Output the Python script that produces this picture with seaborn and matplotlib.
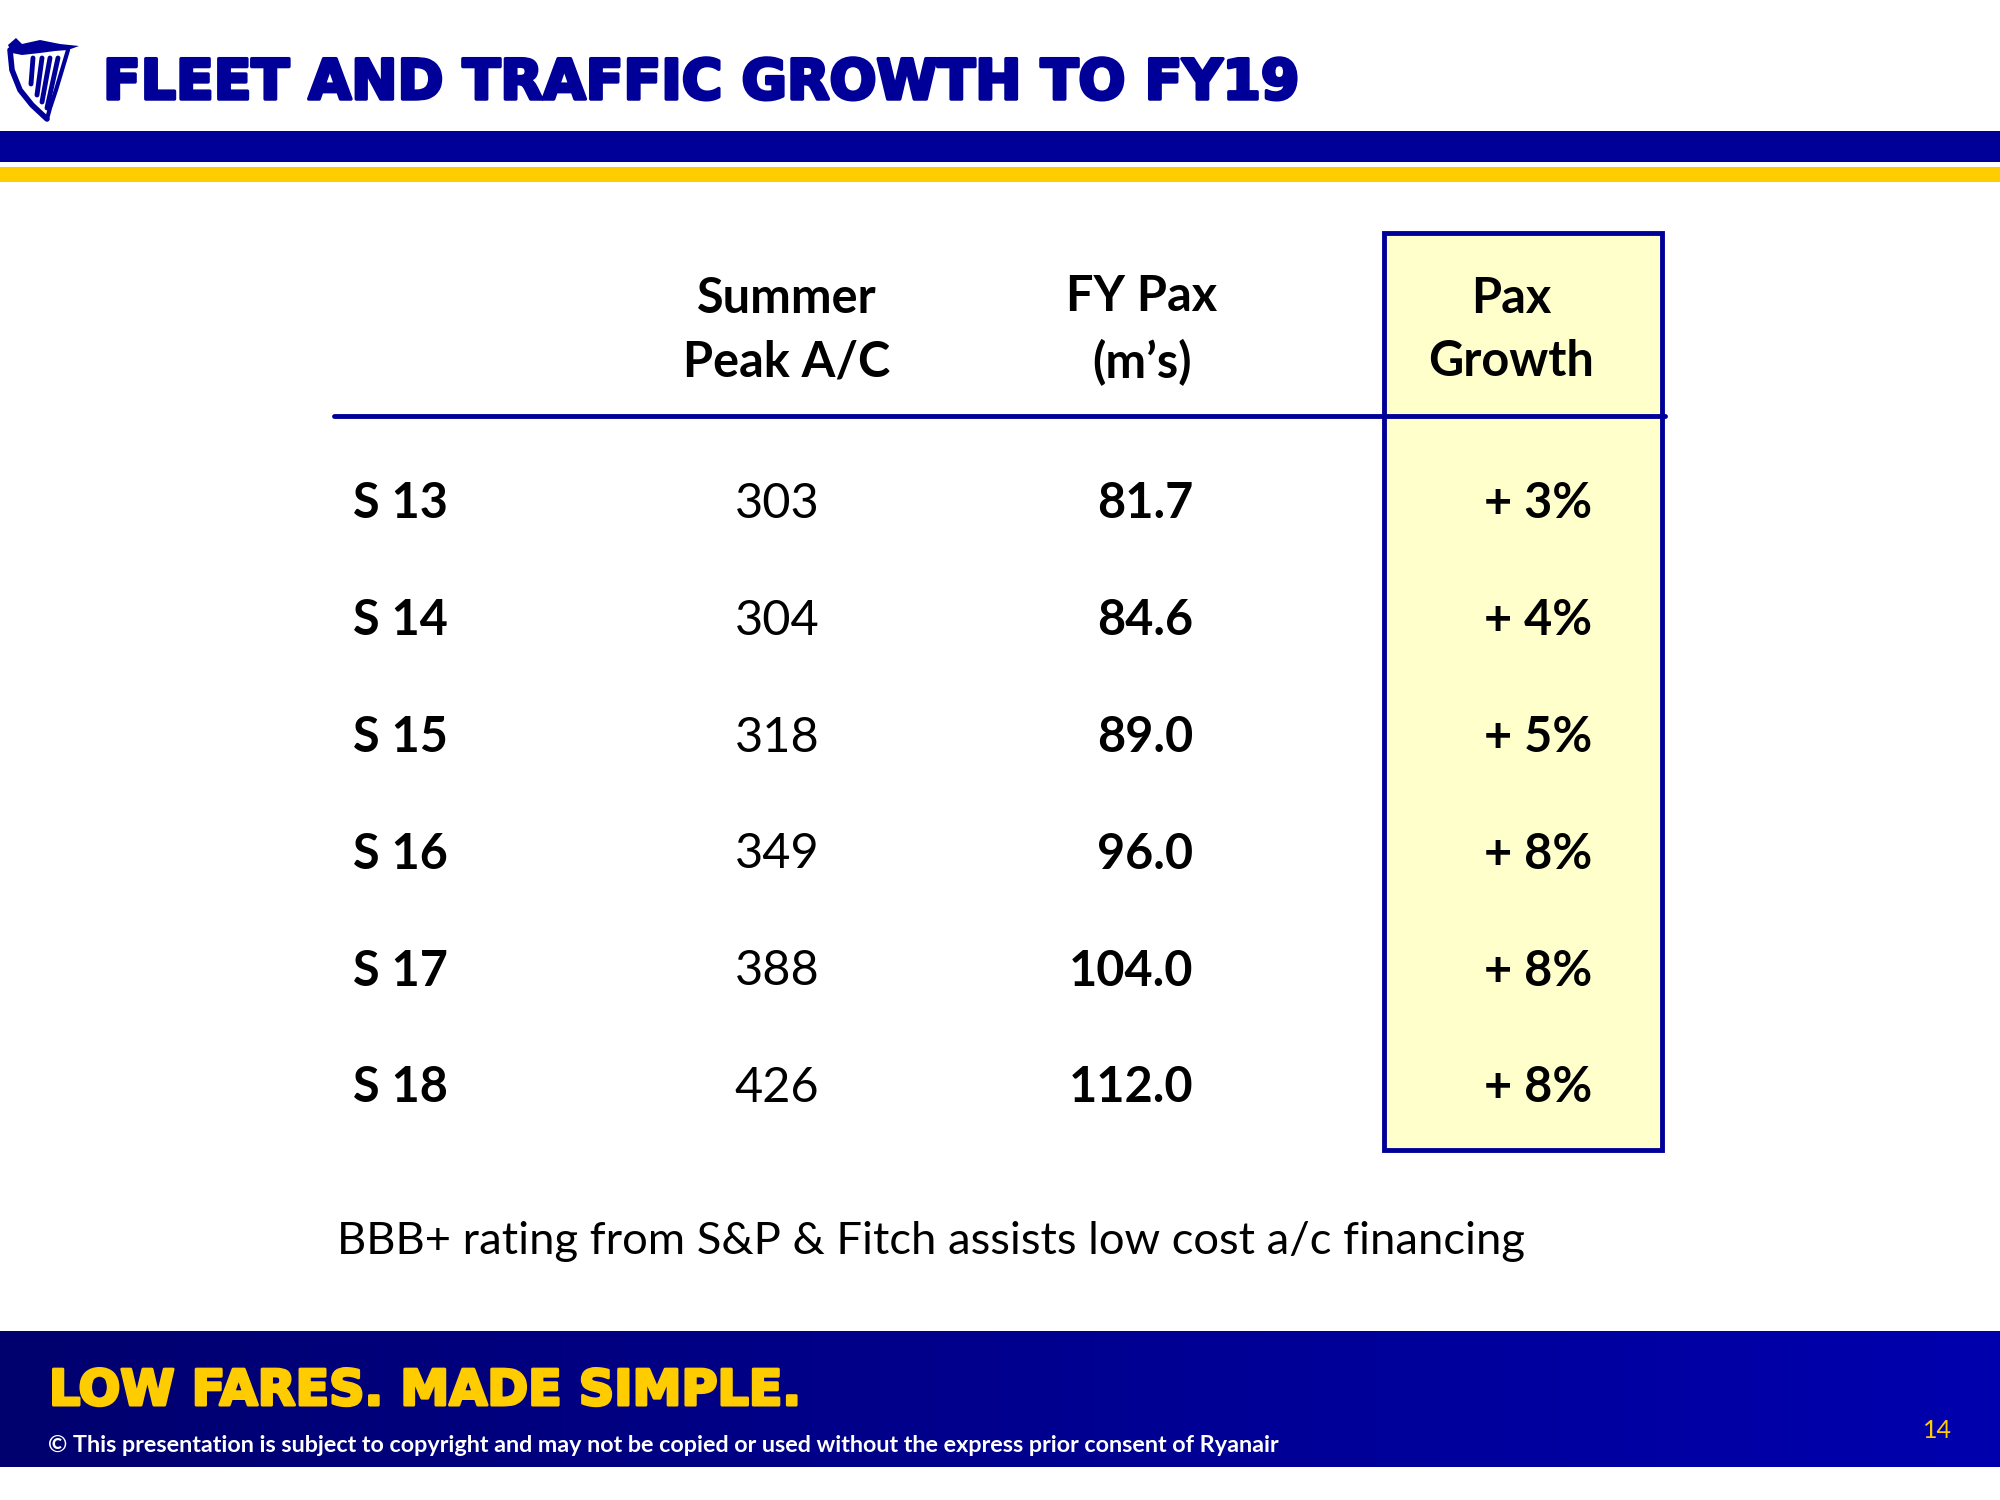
import numpy as np
import matplotlib
matplotlib.use("Agg")
import matplotlib.pyplot as plt
import matplotlib.patheffects as pe
from matplotlib.patches import Rectangle, Polygon
from matplotlib.colors import LinearSegmentedColormap
import seaborn as sns

sns.set_theme(style="white")
plt.rcParams["font.family"] = ["Lato", "DejaVu Sans"]
plt.rcParams["text.color"] = "black"

# ── data ─────────────────────────────────────────────
title = "FLEET AND TRAFFIC GROWTH TO FY19"
col_headers = ["Summer\nPeak A/C", "FY Pax\n(m\u2019s)", "Pax\nGrowth"]
seasons = ["S 13", "S 14", "S 15", "S 16", "S 17", "S 18"]
peak_ac = [303, 304, 318, 349, 388, 426]
fy_pax = [81.7, 84.6, 89.0, 96.0, 104.0, 112.0]
pax_growth = [3, 4, 5, 8, 8, 8]
note = "BBB+ rating from S&P & Fitch assists low cost a/c financing"
tagline = "LOW FARES. MADE SIMPLE."
copyright_txt = ("\u00a9 This presentation is subject to copyright and may not be "
                 "copied or used without the express prior consent of Ryanair")
page_no = "14"

NAVY = "#000099"
YELLOW = "#FFCC00"

# ── canvas (pixel coordinates) ───────────────────────
fig = plt.figure(figsize=(20, 15), dpi=100)
ax = fig.add_axes([0, 0, 1, 1])
ax.set_xlim(0, 2000)
ax.set_ylim(1500, 0)
ax.axis("off")

# header bands
ax.add_patch(Rectangle((0, 131), 2000, 31, color=NAVY, lw=0))
ax.add_patch(Rectangle((0, 167), 2000, 15, color=YELLOW, lw=0))

# logo (simplified harp)
wing = Polygon([(8, 45), (16, 38), (22, 44), (40, 40), (60, 44), (79, 46),
                (68, 50), (55, 51), (40, 53), (22, 55), (12, 53)],
               closed=True, color=NAVY, lw=0)
ax.add_patch(wing)
ax.plot([10, 12, 20, 32, 47], [50, 70, 90, 105, 119], color=NAVY, lw=4,
        solid_capstyle="round")
ax.plot([68, 62, 56, 50, 47], [50, 70, 90, 108, 119], color=NAVY, lw=3,
        solid_capstyle="round")
for x0, x1, y1 in [(33, 31, 84), (42, 37, 95), (50, 42, 102), (58, 47, 108)]:
    ax.plot([x0, x1], [58, y1], color=NAVY, lw=3.5, solid_capstyle="round")

ax.text(103, 84, title, color=NAVY, fontsize=39.8, fontweight="bold",
        family=["DejaVu Sans"], va="center", ha="left",
        path_effects=[pe.withStroke(linewidth=2.5, foreground=NAVY)])

# ── table ────────────────────────────────────────────
ax.add_patch(Rectangle((1384, 233), 278, 917, facecolor="#FFFFCC",
                       edgecolor=NAVY, lw=3.5, zorder=1))
ax.plot([334, 1665], [416, 416], color=NAVY, lw=3.5, zorder=2)

header_x = [787, 1142, 1511]
for hx, h in zip(header_x, col_headers):
    ax.text(hx, 330, h, fontsize=35, fontweight="bold", ha="center",
            va="center", linespacing=1.5)

row_y = 504 + np.arange(len(seasons)) * 116.8
fs = 35
for y, s, ac, pax, g in zip(row_y, seasons, peak_ac, fy_pax, pax_growth):
    ax.text(353, y, s, fontsize=fs, fontweight="bold", ha="left", va="center")
    ax.text(777, y, f"{ac}", fontsize=fs, ha="center", va="center")
    ax.text(1193, y, f"{pax:.1f}", fontsize=fs, fontweight="bold",
            ha="right", va="center")
    ax.text(1592, y, f"+ {g}%", fontsize=fs, fontweight="bold",
            ha="right", va="center", zorder=3)

ax.text(337, 1242, note, fontsize=32.7, ha="left", va="center")

# ── footer ───────────────────────────────────────────
grad = LinearSegmentedColormap.from_list("ft", ["#00006E", "#0000AE"])
ax.imshow(np.linspace(0, 1, 256)[None, :], cmap=grad, aspect="auto",
          extent=(0, 2000, 1467, 1331), zorder=0)
ax.set_xlim(0, 2000)
ax.set_ylim(1500, 0)

ax.text(49, 1391, tagline, color=YELLOW, fontsize=35.4, fontweight="bold",
        family=["DejaVu Sans"], ha="left", va="center",
        path_effects=[pe.withStroke(linewidth=2.2, foreground=YELLOW)])
ax.text(48, 1445, copyright_txt, color="white", fontsize=16.8,
        fontweight="bold", ha="left", va="center")
ax.text(1937, 1431, page_no, color=YELLOW, fontsize=18, ha="center",
        va="center")

fig.savefig("out.png", dpi=100)
